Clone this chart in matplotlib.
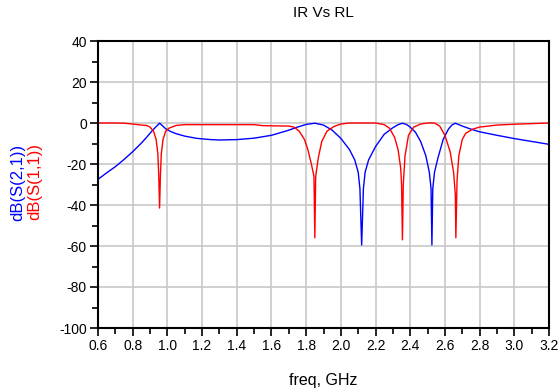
import matplotlib
matplotlib.use("Agg")
import matplotlib.pyplot as plt
from matplotlib.ticker import MultipleLocator

plt.rcParams['font.family'] = ['Liberation Sans', 'DejaVu Sans']

# S21 (blue)
f21 = [0.60, 0.65, 0.70, 0.75, 0.80, 0.85, 0.88, 0.91, 0.93, 0.955, 0.97, 0.99,
       1.02, 1.05, 1.10, 1.17, 1.25, 1.30, 1.40, 1.50, 1.60, 1.70, 1.75, 1.80, 1.85, 1.90,
       1.95, 2.00, 2.05, 2.08, 2.10, 2.11, 2.115, 2.12, 2.125, 2.13, 2.14, 2.16,
       2.20, 2.25, 2.30, 2.33, 2.355, 2.38, 2.40, 2.43, 2.46, 2.49, 2.51, 2.52,
       2.525, 2.53, 2.54, 2.56, 2.59, 2.62, 2.64, 2.66, 2.70, 2.75, 2.80, 2.90,
       3.00, 3.10, 3.20]
s21 = [-27.5, -24.3, -21.3, -17.8, -14.0, -9.8, -7.0, -4.0, -2.2, -0.1, -1.2, -2.8,
       -4.2, -5.2, -6.4, -7.5, -8.1, -8.3, -8.1, -7.4, -6.0, -3.5, -2.0, -0.7, -0.1, -1.0,
       -3.5, -7.5, -13.0, -18.0, -24.0, -32.0, -46.0, -59.5, -46.0, -32.0, -24.0, -18.0,
       -11.5, -5.5, -2.3, -0.8, -0.1, -0.8, -2.0, -4.5, -9.0, -16.0, -24.0, -32.0,
       -59.5, -32.0, -24.0, -17.0, -8.0, -3.0, -1.0, -0.1, -1.5, -3.0, -4.3, -6.0,
       -7.6, -9.0, -10.4]

# S11 (red)
f11 = [0.60, 0.70, 0.75, 0.80, 0.85, 0.88, 0.90, 0.92, 0.935, 0.945, 0.95, 0.955,
       0.96, 0.965, 0.975, 0.99, 1.01, 1.05, 1.10, 1.50, 1.55, 1.70, 1.73, 1.76,
       1.79, 1.81, 1.83, 1.845, 1.85, 1.855, 1.87, 1.89, 1.92, 1.96, 2.00, 2.05,
       2.20, 2.25, 2.28, 2.31, 2.33, 2.345, 2.35, 2.355, 2.36, 2.37, 2.39, 2.42,
       2.46, 2.50, 2.54, 2.57, 2.60, 2.63, 2.65, 2.66, 2.663, 2.67, 2.68, 2.70,
       2.72, 2.76, 2.80, 2.90, 3.00, 3.20]
s11 = [0.0, 0.0, -0.1, -0.5, -1.0, -1.2, -2.0, -4.0, -8.0, -15.0, -25.0, -41.5,
       -25.0, -15.0, -8.0, -4.0, -2.5, -1.2, -0.8, -0.8, -1.3, -1.5, -2.0, -4.0,
       -8.0, -13.0, -20.0, -26.0, -56.0, -26.0, -17.0, -9.0, -4.0, -1.7, -0.5, 0.0,
       0.0, -0.8, -2.5, -7.0, -13.0, -22.0, -30.0, -57.0, -30.0, -16.0, -6.0, -2.0,
       -0.5, 0.0, 0.0, -1.5, -6.0, -14.0, -24.0, -35.0, -56.0, -28.0, -16.0, -8.0,
       -5.0, -3.0, -2.0, -1.0, -0.6, 0.0]

xticks = [0.6, 0.8, 1.0, 1.2, 1.4, 1.6, 1.8, 2.0, 2.2, 2.4, 2.6, 2.8, 3.0, 3.2]
yticks = [40, 20, 0, -20, -40, -60, -80, -100]

fig = plt.figure(figsize=(5.58, 3.92), dpi=100)
ax = fig.add_axes([98/558, 1-328/392, (549-98)/558, (328-41)/392])

ax.plot(f21, s21, color='#0000ff', lw=1.0)
ax.plot(f11, s11, color='#ff0000', lw=1.0)

ax.set_xlim(0.6, 3.2)
ax.set_ylim(-100, 40)
ax.set_xticks(xticks)
ax.set_xticklabels([f"{v:.1f}" for v in xticks])
ax.set_yticks(yticks)
ax.set_yticklabels([str(v) for v in yticks])
ax.xaxis.set_minor_locator(MultipleLocator(0.1))
ax.yaxis.set_minor_locator(MultipleLocator(10))
ax.grid(True, which='major', color='#c8c8c8', lw=1.2)
ax.set_axisbelow(True)
ax.tick_params(which='major', direction='out', length=6, width=1.2, labelsize=10, colors='black', pad=2)
ax.tick_params(which='minor', direction='out', length=4, width=1.2)
for s in ax.spines.values():
    s.set_linewidth(1.5)
    s.set_color('black')

ax.set_title('IR Vs RL', fontsize=11, pad=17)
ax.set_xlabel('freq, GHz', fontsize=11.5, labelpad=14)

fig.text(18/558, 1-182/392, 'dB(S(2,1))', color='#0000ff', rotation=90,
         ha='center', va='center', fontsize=12)
fig.text(34.5/558, 1-182/392, 'dB(S(1,1))', color='#ff0000', rotation=90,
         ha='center', va='center', fontsize=12)

fig.savefig('out.png', dpi=100)
